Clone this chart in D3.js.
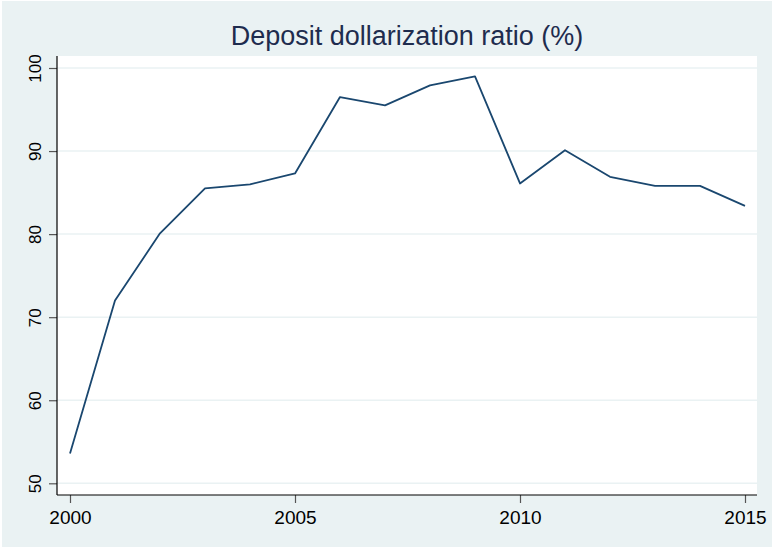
<!DOCTYPE html>
<html><head><meta charset="utf-8">
<script src="https://cdn.jsdelivr.net/npm/d3@7"></script>
<style>body{margin:0;background:#fff}svg{display:block}</style>
</head><body>
<svg id="c" width="774" height="548"></svg>
<script>
const years = [2000,2001,2002,2003,2004,2005,2006,2007,2008,2009,2010,2011,2012,2013,2014,2015];
const ratio = [53.6,72.0,80.1,85.5,86.0,87.3,96.5,95.5,97.9,99.0,86.1,90.1,86.9,85.8,85.8,83.4];
const yTicks = [50,60,70,80,90,100];
const xTicks = [2000,2005,2010,2015];
const title = "Deposit dollarization ratio (%)";

const svg = d3.select("#c");
const W=774,H=548;
const plot = {x0:57,x1:757,y0:56,y1:495};
svg.append("rect").attr("x",2).attr("y",1).attr("width",770).attr("height",546).attr("fill","#eaf2f3");
svg.append("rect").attr("x",plot.x0).attr("y",plot.y0).attr("width",plot.x1-plot.x0).attr("height",plot.y1-plot.y0).attr("fill","#fff");

const x = d3.scaleLinear().domain([2000,2015]).range([70,745]);
const y = d3.scaleLinear().domain([50,100]).range([483.3,68]);

// gridlines
svg.append("g").selectAll("line").data(yTicks).join("line")
  .attr("x1",plot.x0).attr("x2",plot.x1).attr("y1",d=>y(d)).attr("y2",d=>y(d))
  .attr("stroke","#eaf2f3").attr("stroke-width",1.5);

// y axis
const ya = svg.append("g").attr("transform",`translate(${plot.x0},0)`)
  .call(d3.axisLeft(y).tickValues(yTicks).tickSize(8).tickSizeOuter(0).tickFormat(d3.format("d")));
ya.select(".domain").remove();
ya.selectAll(".tick line").attr("stroke","#555").attr("stroke-width",1.2);
ya.selectAll(".tick text").attr("font-family","Arial, 'Liberation Sans', sans-serif").attr("font-size",17).attr("fill","#000")
  .attr("text-anchor","middle").attr("dy",0).attr("x",0)
  .attr("transform","translate(-16,0) rotate(-90)");
svg.append("line").attr("x1",plot.x0).attr("x2",plot.x0).attr("y1",plot.y0).attr("y2",plot.y1).attr("stroke","#000").attr("stroke-width",1.2);

// x axis
const xa = svg.append("g").attr("transform",`translate(0,${plot.y1})`)
  .call(d3.axisBottom(x).tickValues(xTicks).tickSize(8).tickSizeOuter(0).tickFormat(d3.format("d")));
xa.select(".domain").remove();
xa.selectAll(".tick line").attr("stroke","#555").attr("stroke-width",1.2);
xa.selectAll(".tick text").attr("font-family","Arial, 'Liberation Sans', sans-serif").attr("font-size",19).attr("fill","#000")
  .attr("dy",0).attr("y",29);
svg.append("line").attr("x1",plot.x0).attr("x2",plot.x1).attr("y1",plot.y1).attr("y2",plot.y1).attr("stroke","#000").attr("stroke-width",1.2);

// line
const data = years.map((d,i)=>({year:d,v:ratio[i]}));
svg.append("path").datum(data)
  .attr("d",d3.line().x(d=>x(d.year)).y(d=>y(d.v)))
  .attr("fill","none").attr("stroke","#1a476f").attr("stroke-width",1.8).attr("stroke-linejoin","round");

svg.append("text").attr("x",(plot.x0+plot.x1)/2).attr("y",45).attr("text-anchor","middle")
  .attr("font-family","Arial, 'Liberation Sans', sans-serif").attr("font-size",27).attr("fill","#1e2c4e").text(title);
</script>
</body></html>
